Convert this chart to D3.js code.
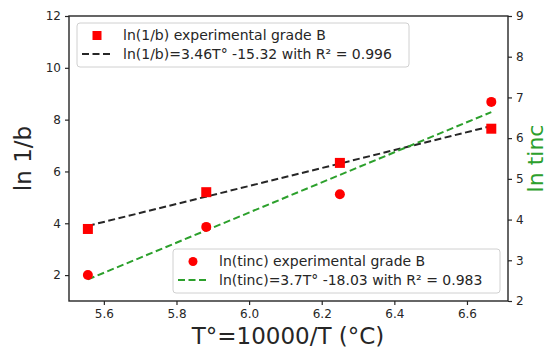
<!DOCTYPE html>
<html>
<head>
<meta charset="utf-8">
<script src="https://cdn.jsdelivr.net/npm/d3@7/dist/d3.min.js"></script>
<style>
  html, body { margin: 0; padding: 0; background: #fff; }
  svg { display: block; font-family: "DejaVu Sans", sans-serif; }
</style>
</head>
<body>
<svg id="chart" width="547" height="352"></svg>
<script>
// Data
const tStar = [5.556, 5.882, 6.25, 6.667];
const lnInvB = [3.78, 5.20, 6.33, 7.65];
const lnTinc = [2.64, 3.82, 4.62, 6.89];
const fitX = [5.556, 6.667];
const fitB = [3.90, 7.75];   // ln(1/b)=3.46T° -15.32
const fitT = [2.53, 6.64];   // ln(tinc)=3.7T° -18.03
const xTicks = [5.6, 5.8, 6.0, 6.2, 6.4, 6.6];
const yLeftTicks = [2, 4, 6, 8, 10, 12];
const yRightTicks = [2, 3, 4, 5, 6, 7, 8, 9];
const legend1 = ["ln(1/b) experimental grade B", "ln(1/b)=3.46T° -15.32 with R² = 0.996"];
const legend2 = ["ln(tinc) experimental grade B", "ln(tinc)=3.7T° -18.03 with R² = 0.983"];

const svg = d3.select("#chart");
const m = {l: 69, r: 508, t: 16, b: 301};
const x = d3.scaleLinear().domain([5.504, 6.713]).range([m.l, m.r]);
const yL = d3.scaleLinear().domain([1, 12]).range([m.b, m.t]);
const yR = d3.scaleLinear().domain([2, 9]).range([m.b, m.t]);

const red = "#ff0000", green = "#2ca02c", dark = "#262626";

// axes
const tickFont = 12;
const gx = svg.append("g").attr("transform", `translate(0,${m.b})`)
  .call(d3.axisBottom(x).tickValues(xTicks).tickFormat(d3.format(".1f")).tickSize(4).tickPadding(4));
const gl = svg.append("g").attr("transform", `translate(${m.l},0)`)
  .call(d3.axisLeft(yL).tickValues(yLeftTicks).tickFormat(d3.format("d")).tickSize(4).tickPadding(4));
const gr = svg.append("g").attr("transform", `translate(${m.r},0)`)
  .call(d3.axisRight(yR).tickValues(yRightTicks).tickFormat(d3.format("d")).tickSize(4).tickPadding(4));
[gx, gl, gr].forEach(g => {
  g.selectAll(".domain").remove();
  g.selectAll("line").attr("stroke", dark).attr("stroke-width", 1.2);
  g.selectAll("text").attr("font-size", tickFont).attr("fill", dark).attr("font-family", "DejaVu Sans");
});

// fit lines
const lineB = d3.line().x((d, i) => x(fitX[i])).y(d => yL(d));
const lineT = d3.line().x((d, i) => x(fitX[i])).y(d => yR(d));
svg.append("path").attr("d", lineB(fitB)).attr("fill", "none")
  .attr("stroke", dark).attr("stroke-width", 2).attr("stroke-dasharray", "7,3.5");
svg.append("path").attr("d", lineT(fitT)).attr("fill", "none")
  .attr("stroke", green).attr("stroke-width", 2).attr("stroke-dasharray", "7,3.5");

// markers
const sq = 10;
svg.selectAll("rect.pt").data(lnInvB).enter().append("rect")
  .attr("x", (d, i) => x(tStar[i]) - sq / 2).attr("y", d => yL(d) - sq / 2)
  .attr("width", sq).attr("height", sq).attr("fill", red);
svg.selectAll("circle.pt").data(lnTinc).enter().append("circle")
  .attr("cx", (d, i) => x(tStar[i])).attr("cy", d => yR(d)).attr("r", 5).attr("fill", red);

// frame
svg.append("rect").attr("x", m.l).attr("y", m.t).attr("width", m.r - m.l).attr("height", m.b - m.t)
  .attr("fill", "none").attr("stroke", dark).attr("stroke-width", 1.4);

// legends
function legend(x0, y0, w, h, labels, markerType, lineColor) {
  const g = svg.append("g");
  g.append("rect").attr("x", x0).attr("y", y0).attr("width", w).attr("height", h)
    .attr("rx", 3).attr("fill", "#fff").attr("fill-opacity", 0.85).attr("stroke", "#d0d0d0").attr("stroke-width", 1);
  const r1 = y0 + 12.5, r2 = y0 + 31;
  const mx = x0 + 20;
  if (markerType === "square") {
    g.append("rect").attr("x", mx - 4.5).attr("y", r1 - 4.5).attr("width", 9).attr("height", 9).attr("fill", red);
  } else {
    g.append("circle").attr("cx", mx).attr("cy", r1).attr("r", 4.5).attr("fill", red);
  }
  g.append("line").attr("x1", x0 + 5).attr("x2", x0 + 34).attr("y1", r2).attr("y2", r2)
    .attr("stroke", lineColor).attr("stroke-width", 2).attr("stroke-dasharray", "7,3.5");
  [r1, r2].forEach((ry, i) => {
    g.append("text").attr("x", x0 + 46).attr("y", ry).attr("dy", "0.35em")
      .attr("font-size", 14).attr("fill", dark).text(labels[i]);
  });
}
legend(77, 23, 332, 44, legend1, "square", dark);
legend(173, 249, 327, 44, legend2, "circle", green);

// axis labels
svg.append("text").attr("x", 288).attr("y", 344).attr("text-anchor", "middle")
  .attr("font-size", 23).attr("fill", dark).text("T°=10000/T (°C)");
svg.append("text").attr("transform", `translate(31,${(m.t + m.b) / 2}) rotate(-90)`)
  .attr("text-anchor", "middle").attr("font-size", 23).attr("fill", dark).text("ln 1/b");
svg.append("text").attr("transform", `translate(543,${(m.t + m.b) / 2}) rotate(-90)`)
  .attr("text-anchor", "middle").attr("font-size", 22).attr("fill", green).text("ln tinc");
</script>
</body>
</html>
